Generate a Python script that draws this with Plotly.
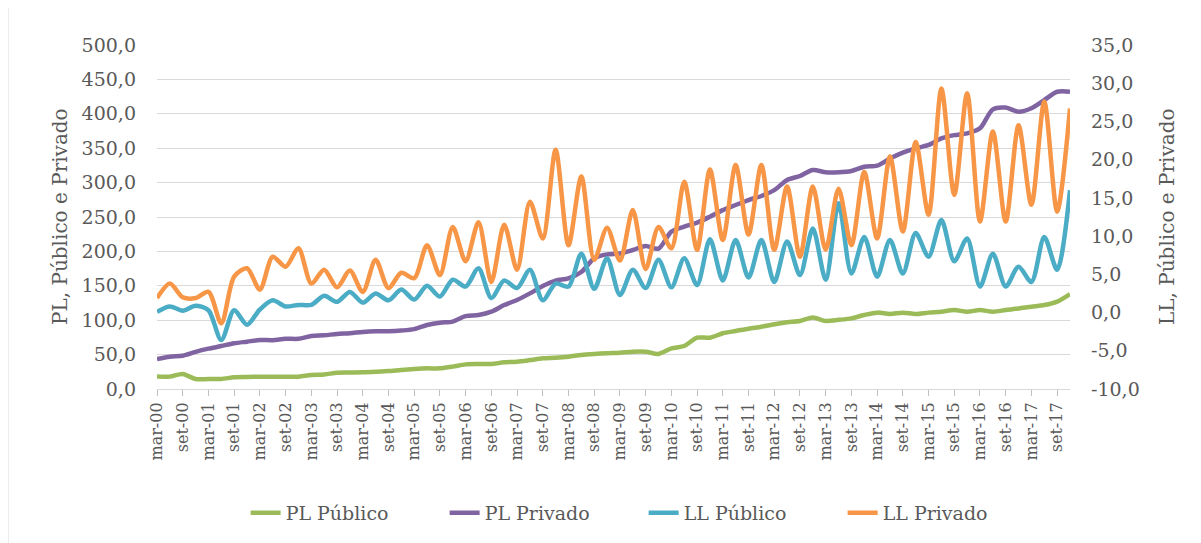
import plotly.graph_objects as go

years = [f"{y:02d}" for y in range(0, 18)]
months = ["mar", "jun", "set", "dez"]
quarters = [f"{m}-{y}" for y in years for m in months]
tick_labels = [q for q in quarters if q.startswith("mar") or q.startswith("set")]

left_ticks = [0, 50, 100, 150, 200, 250, 300, 350, 400, 450, 500]
right_ticks = [-10, -5, 0, 5, 10, 15, 20, 25, 30, 35]

pl_publico = [18, 18, 21.8, 14.5, 14.5, 14.5, 17, 17.5, 17.9, 17.9, 17.9, 17.9,
              20.3, 21, 23.7, 24, 24.2, 25, 26, 27.6, 29, 30, 30, 32.5,
              35.8, 36.3, 36.3, 38.8, 39.7, 42, 44.6, 45.5, 47, 49.4, 50.9, 52,
              52.8, 54.3, 54.3, 50.9, 59, 62.5, 74.6, 74.6, 81, 84.3, 87.7, 90.6,
              94, 97, 98.8, 104, 98.8, 100.5, 102.7, 107.6, 111, 109, 111, 109,
              111, 112.4, 114.8, 112.4, 114.8, 112.4, 114.8, 117, 119.7, 122, 127, 138]

pl_privado = [43.6, 47, 48.4, 54, 58.6, 62.5, 66.4, 68.8, 71.2, 71, 73, 73,
              77, 78, 80, 81, 83, 84, 84, 85, 87, 93, 96.4, 97.9,
              106, 107.6, 112.4, 122, 129.4, 139, 149.7, 157.5, 160.9, 170, 190, 195.7,
              197, 202, 208, 204, 228.7, 236, 241.8, 250.5, 260, 267.4, 274.7, 280.5,
              289, 303.8, 309.6, 318.3, 315, 315, 316.9, 323, 324.6, 335, 343.5, 349.8,
              354.7, 364.3, 369, 371.6, 378.9, 406.5, 409, 403, 408, 420, 432, 432]

ll_publico = [0.1, 0.8, 0.25, 0.9, 0.3, -3.6, 0.3, -1.6, 0.4, 1.6, 0.8, 1.0,
              1.0, 2.2, 1.4, 2.7, 1.3, 2.5, 1.6, 3.0, 1.7, 3.5, 2.1, 4.3,
              3.4, 5.8, 1.9, 4.2, 3.2, 5.6, 1.6, 3.8, 3.4, 7.7, 3.1, 7.1,
              2.3, 5.6, 3.2, 6.9, 3.3, 7.1, 3.6, 9.6, 4.2, 9.5, 4.6, 9.5,
              4.0, 9.3, 4.9, 11.0, 4.3, 14.3, 5.1, 9.9, 4.7, 9.5, 5.1, 10.4,
              7.3, 12.1, 6.7, 9.7, 3.4, 7.7, 3.4, 6.0, 4.0, 9.9, 5.6, 16.0]

ll_privado = [1.9, 3.8, 2.0, 1.9, 2.7, -1.4, 4.7, 5.8, 3.0, 7.3, 6.0, 8.4,
              3.8, 5.6, 3.3, 5.5, 2.7, 6.9, 3.2, 5.2, 4.5, 8.8, 4.9, 11.2,
              6.7, 11.8, 4.0, 11.5, 5.6, 14.5, 9.7, 21.3, 8.8, 17.8, 6.9, 11.1,
              6.8, 13.4, 5.7, 11.2, 8.4, 17.1, 8.2, 18.7, 9.5, 19.3, 10.2, 19.3,
              8.2, 16.5, 7.3, 16.5, 8.2, 16.2, 8.8, 18.4, 9.7, 20.4, 10.6, 22.3,
              12.8, 29.3, 15.4, 28.7, 11.9, 23.7, 11.9, 24.5, 14.1, 27.6, 13.2, 26.7]

series = [
    ("PL Público", pl_publico, "#9BBB59", "y"),
    ("PL Privado", pl_privado, "#8064A2", "y"),
    ("LL Público", ll_publico, "#4BACC6", "y2"),
    ("LL Privado", ll_privado, "#F79646", "y2"),
]


def fmt(v):
    return f"{v:.1f}".replace(".", ",")


FONT = "DejaVu Serif"
GRAY = "#595959"

fig = go.Figure()
for name, vals, color, axis in series:
    fig.add_trace(go.Scatter(
        x=quarters, y=vals, name=name, yaxis=axis, mode="lines",
        line=dict(color=color, width=4.5, shape="spline", smoothing=0.8),
    ))

# page body has an 8px offset; target plot area on screen: x 157..1070, y 45..389
OFF = 8
SL, ST, SR, SB = 157, 45, 1070, 389
W, H = 1201, 543
L, T = SL - OFF, ST - OFF
R, B = W - (SR - OFF), H - (SB - OFF)
pw, ph = SR - SL, SB - ST

fig.update_layout(
    width=W, height=H,
    margin=dict(l=L, r=R, t=T, b=B, autoexpand=False),
    paper_bgcolor="white", plot_bgcolor="white",
    font=dict(family=FONT, color=GRAY, size=19),
    showlegend=True,
    legend=dict(orientation="h", x=0.533, xanchor="center", y=-0.36, yanchor="middle",
                font=dict(family=FONT, size=19, color=GRAY),
                entrywidth=154, entrywidthmode="pixels", traceorder="normal"),
    xaxis=dict(type="category", categoryorder="array", categoryarray=quarters,
               range=[0, len(quarters) - 1], tickmode="array", tickvals=tick_labels,
               ticktext=tick_labels, tickangle=-90, ticks="outside", ticklen=6,
               tickcolor="#BFBFBF", showline=True, linecolor="#D9D9D9", linewidth=1,
               showgrid=False, zeroline=False,
               tickfont=dict(family=FONT, size=16, color=GRAY)),
    yaxis=dict(range=[0, 500], tickmode="array", tickvals=left_ticks,
               ticktext=[fmt(v) for v in left_ticks], showgrid=True,
               gridcolor="#D9D9D9", gridwidth=1, zeroline=False, showline=False,
               ticks="", ticklabelstandoff=20,
               tickfont=dict(family=FONT, size=19, color=GRAY)),
    yaxis2=dict(range=[-10, 35], tickmode="array", tickvals=right_ticks,
                ticktext=[fmt(v) for v in right_ticks], overlaying="y", side="right",
                showgrid=False, zeroline=False, showline=False, ticks="",
                ticklabelstandoff=20,
                tickfont=dict(family=FONT, size=19, color=GRAY)),
)

fig.add_annotation(text="PL, Público e Privado", xref="paper", yref="paper",
                   x=(60 - SL) / pw, y=0.5, xanchor="center", yanchor="middle",
                   textangle=-90, showarrow=False,
                   font=dict(family=FONT, size=20, color=GRAY))
fig.add_annotation(text="LL, Público e Privado", xref="paper", yref="paper",
                   x=(1167 - SL) / pw, y=0.5, xanchor="center", yanchor="middle",
                   textangle=-90, showarrow=False,
                   font=dict(family=FONT, size=20, color=GRAY))

fig.add_shape(type="line", xref="paper", yref="paper",
              x0=(8 - SL) / pw, x1=(8 - SL) / pw, y0=-B / ph, y1=(ph + T) / ph,
              line=dict(color="#D9D9D9", width=1))

fig.write_html("out.html")
